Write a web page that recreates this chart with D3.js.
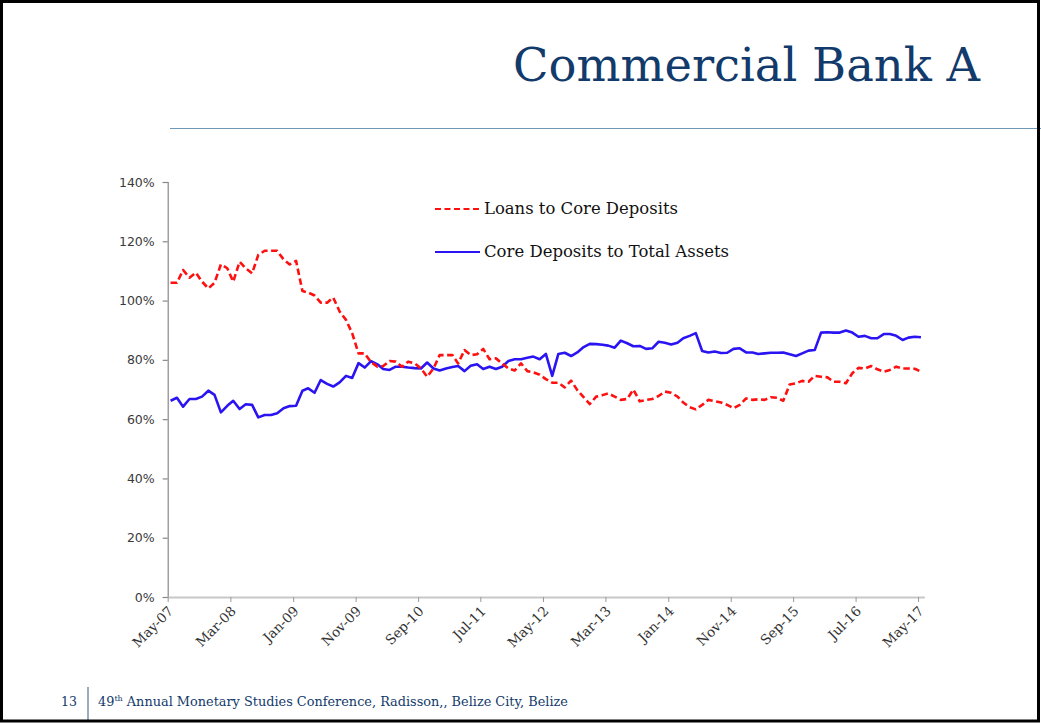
<!DOCTYPE html>
<html>
<head>
<meta charset="utf-8">
<script src="https://cdn.jsdelivr.net/npm/d3@7"></script>
<style>
  html, body { margin: 0; padding: 0; background: #fff; }
  svg { display: block; }
</style>
</head>
<body>
<svg id="slide" width="1041" height="723"></svg>
<script>
// Monthly observations, May 2007 through May 2017
const firstMonth = "2007-05";
const monthCount = 121;

// Loans to Core Deposits (%)
const loansToCoreDeposits = [
  106.0, 106.0, 110.3, 107.7, 109.4, 106.4, 104.1, 106.0, 112.2, 110.9,
  106.4, 113.1, 110.9, 109.2, 115.4, 116.8, 116.8, 116.8, 113.9, 112.2,
  113.4, 103.2, 102.7, 101.7, 99.3, 99.3, 101.0, 96.3, 93.5, 89.0,
  82.2, 82.2, 79.2, 77.7, 77.9, 79.6, 79.4, 77.7, 79.4, 78.8,
  77.1, 74.3, 77.1, 81.6, 81.6, 81.6, 78.8, 83.3, 81.6, 81.9,
  83.7, 80.2, 80.5, 78.8, 77.1, 76.4, 78.8, 76.2, 75.8, 75.0,
  73.5, 72.3, 72.3, 70.7, 73.0, 69.8, 67.4, 65.1, 67.6, 68.1,
  68.7, 67.6, 66.5, 66.8, 70.0, 66.0, 66.5, 66.8, 67.8, 69.3,
  68.9, 67.6, 65.6, 64.0, 63.3, 64.8, 66.5, 66.1, 65.6, 64.8,
  63.7, 64.8, 67.0, 66.5, 66.7, 66.5, 67.4, 67.2, 66.2, 71.7,
  72.1, 72.9, 72.6, 74.6, 74.3, 74.1, 72.6, 72.6, 72.1, 75.5,
  77.3, 77.1, 77.9, 76.8, 76.0, 76.6, 77.7, 77.1, 77.1, 77.0,
  76.0
];

// Core Deposits to Total Assets (%)
const coreDepositsToTotalAssets = [
  66.2, 67.2, 64.2, 66.8, 66.8, 67.6, 69.6, 68.2, 62.3, 64.5,
  66.2, 63.4, 65.0, 64.8, 60.6, 61.4, 61.4, 62.0, 63.7, 64.4,
  64.5, 69.6, 70.4, 68.9, 73.2, 71.9, 71.0, 72.4, 74.6, 73.9,
  78.9, 77.4, 79.6, 78.5, 76.9, 76.6, 77.7, 77.7, 77.4, 77.2,
  77.1, 79.1, 77.1, 76.4, 77.1, 77.6, 77.9, 76.2, 78.0, 78.5,
  76.9, 77.7, 76.9, 77.7, 79.6, 80.2, 80.2, 80.7, 81.1, 80.2,
  82.0, 74.6, 82.0, 82.4, 81.3, 82.5, 84.3, 85.4, 85.3, 85.1,
  84.8, 84.1, 86.5, 85.6, 84.6, 84.7, 83.7, 83.9, 86.1, 85.8,
  85.2, 85.8, 87.3, 88.1, 89.0, 83.0, 82.5, 82.8, 82.3, 82.4,
  83.7, 83.9, 82.5, 82.5, 82.0, 82.2, 82.4, 82.4, 82.5, 81.9,
  81.3, 82.2, 83.1, 83.3, 89.2, 89.3, 89.2, 89.2, 89.9, 89.2,
  87.8, 88.1, 87.3, 87.3, 88.7, 88.7, 88.1, 86.7, 87.5, 87.8,
  87.6
];

const xTickLabels = ["May-07", "Mar-08", "Jan-09", "Nov-09", "Sep-10", "Jul-11",
                     "May-12", "Mar-13", "Jan-14", "Nov-14", "Sep-15", "Jul-16", "May-17"];
const yTickValues = [0, 20, 40, 60, 80, 100, 120, 140];

const seriesNames = ["Loans to Core Deposits", "Core Deposits to Total Assets"];
const seriesColors = ["#ff1010", "#2a14f2"];

const titleText = "Commercial Bank A";
const slideNumber = "13";
const footerLead = "49";
const footerSup = "th";
const footerRest = " Annual Monetary Studies Conference, Radisson,, Belize City, Belize";

// ---- layout ----
const W = 1041, H = 723;
const plot = { left: 167.7, right: 924.4, top: 182, bottom: 597 };
const navy = "#123a6b";
const serif = "'DejaVu Serif', 'Liberation Serif', serif";
const sans = "'DejaVu Sans', Verdana, sans-serif";

const svg = d3.select("#slide");
svg.append("rect").attr("width", W).attr("height", H).attr("fill", "#fff");

// scale a text element's font size so it spans the given width
function fitWidth(sel, width) {
  const node = sel.node();
  const fs = parseFloat(sel.attr("font-size"));
  const w = node.getComputedTextLength();
  sel.attr("font-size", (fs * width / w).toFixed(2));
}

// title and rule
const title = svg.append("text")
  .attr("x", 980).attr("y", 81)
  .attr("text-anchor", "end")
  .attr("font-family", serif)
  .attr("font-size", 48)
  .attr("fill", navy)
  .text(titleText);
fitWidth(title, 467);

svg.append("line")
  .attr("x1", 170).attr("x2", W).attr("y1", 128.5).attr("y2", 128.5)
  .attr("stroke", "#6f98b6").attr("stroke-width", 1.2);

// scales
const parseMonth = d3.timeParse("%Y-%m");
const parseTick = d3.timeParse("%b-%y");
const start = parseMonth(firstMonth);
const dates = d3.range(monthCount).map(i => d3.timeDay.offset(d3.timeMonth.offset(start, i), 14));
const tickDates = xTickLabels.map(parseTick);

const x = d3.scaleTime()
  .domain([start, d3.timeMonth.offset(tickDates[tickDates.length - 1], 1)])
  .range([plot.left, plot.right]);
const y = d3.scaleLinear().domain([0, 140]).range([plot.bottom, plot.top]);

// y axis
const yAxis = svg.append("g")
  .attr("transform", `translate(${plot.left},0)`)
  .call(d3.axisLeft(y).tickValues(yTickValues).tickFormat(d => d + "%").tickSize(5).tickPadding(8));
yAxis.select(".domain").attr("stroke", "#888").attr("stroke-width", 1.2);
yAxis.selectAll(".tick line").attr("stroke", "#888").attr("stroke-width", 1.2);
yAxis.selectAll(".tick text")
  .attr("font-family", sans).attr("font-size", 12.5).attr("fill", "#3a3a3a");

// x axis
const xAxis = svg.append("g")
  .attr("transform", `translate(0,${plot.bottom})`)
  .call(d3.axisBottom(x).tickValues(tickDates).tickFormat((d, i) => xTickLabels[i]).tickSize(5).tickSizeOuter(0));
xAxis.select(".domain").attr("stroke", "#c8c8c8").attr("stroke-width", 2);
xAxis.selectAll(".tick line").attr("stroke", "#999").attr("stroke-width", 1);
xAxis.selectAll(".tick text")
  .attr("font-family", serif).attr("font-size", 13.5).attr("fill", "#333")
  .attr("text-anchor", "end")
  .attr("y", 0)
  .attr("dy", 0)
  .attr("transform", "translate(6,15) rotate(-45)");

// series lines
const line = d3.line().x((d, i) => x(dates[i])).y(d => y(d));
svg.append("path")
  .datum(coreDepositsToTotalAssets)
  .attr("d", line)
  .attr("fill", "none")
  .attr("stroke", seriesColors[1])
  .attr("stroke-width", 2.6)
  .attr("stroke-linejoin", "round");
svg.append("path")
  .datum(loansToCoreDeposits)
  .attr("d", line)
  .attr("fill", "none")
  .attr("stroke", seriesColors[0])
  .attr("stroke-width", 2.6)
  .attr("stroke-dasharray", "6.5,3.5")
  .attr("stroke-linejoin", "round");

// legend
const legend = svg.append("g");
[0, 1].forEach(k => {
  const ly = 209 + k * 43;
  legend.append("line")
    .attr("x1", 435).attr("x2", 480).attr("y1", ly).attr("y2", ly)
    .attr("stroke", seriesColors[k]).attr("stroke-width", 2.2)
    .attr("stroke-dasharray", k === 0 ? "6,3.5" : null);
  const t = legend.append("text")
    .attr("x", 484).attr("y", ly + 5)
    .attr("font-family", serif).attr("font-size", 15)
    .attr("fill", "#111")
    .text(seriesNames[k]);
  fitWidth(t, k === 0 ? 194 : 245);
});

// footer
svg.append("text")
  .attr("x", 77).attr("y", 706)
  .attr("text-anchor", "end")
  .attr("font-family", serif).attr("font-size", 12.5).attr("fill", navy)
  .text(slideNumber);
svg.append("line")
  .attr("x1", 88).attr("x2", 88).attr("y1", 687).attr("y2", 720)
  .attr("stroke", "#7a90a8").attr("stroke-width", 1.5);
const foot = svg.append("text")
  .attr("x", 98).attr("y", 706)
  .attr("font-family", serif).attr("font-size", 12.5).attr("fill", navy);
foot.append("tspan").text(footerLead);
foot.append("tspan").attr("font-size", 8).attr("dy", -5).text(footerSup);
foot.append("tspan").attr("dy", 5).text(footerRest);
fitWidth(foot, 470);

// slide frame
svg.append("rect")
  .attr("x", 1.5).attr("y", 1.5).attr("width", W - 4).attr("height", H - 3.5)
  .attr("fill", "none").attr("stroke", "#000").attr("stroke-width", 3);
</script>
</body>
</html>
